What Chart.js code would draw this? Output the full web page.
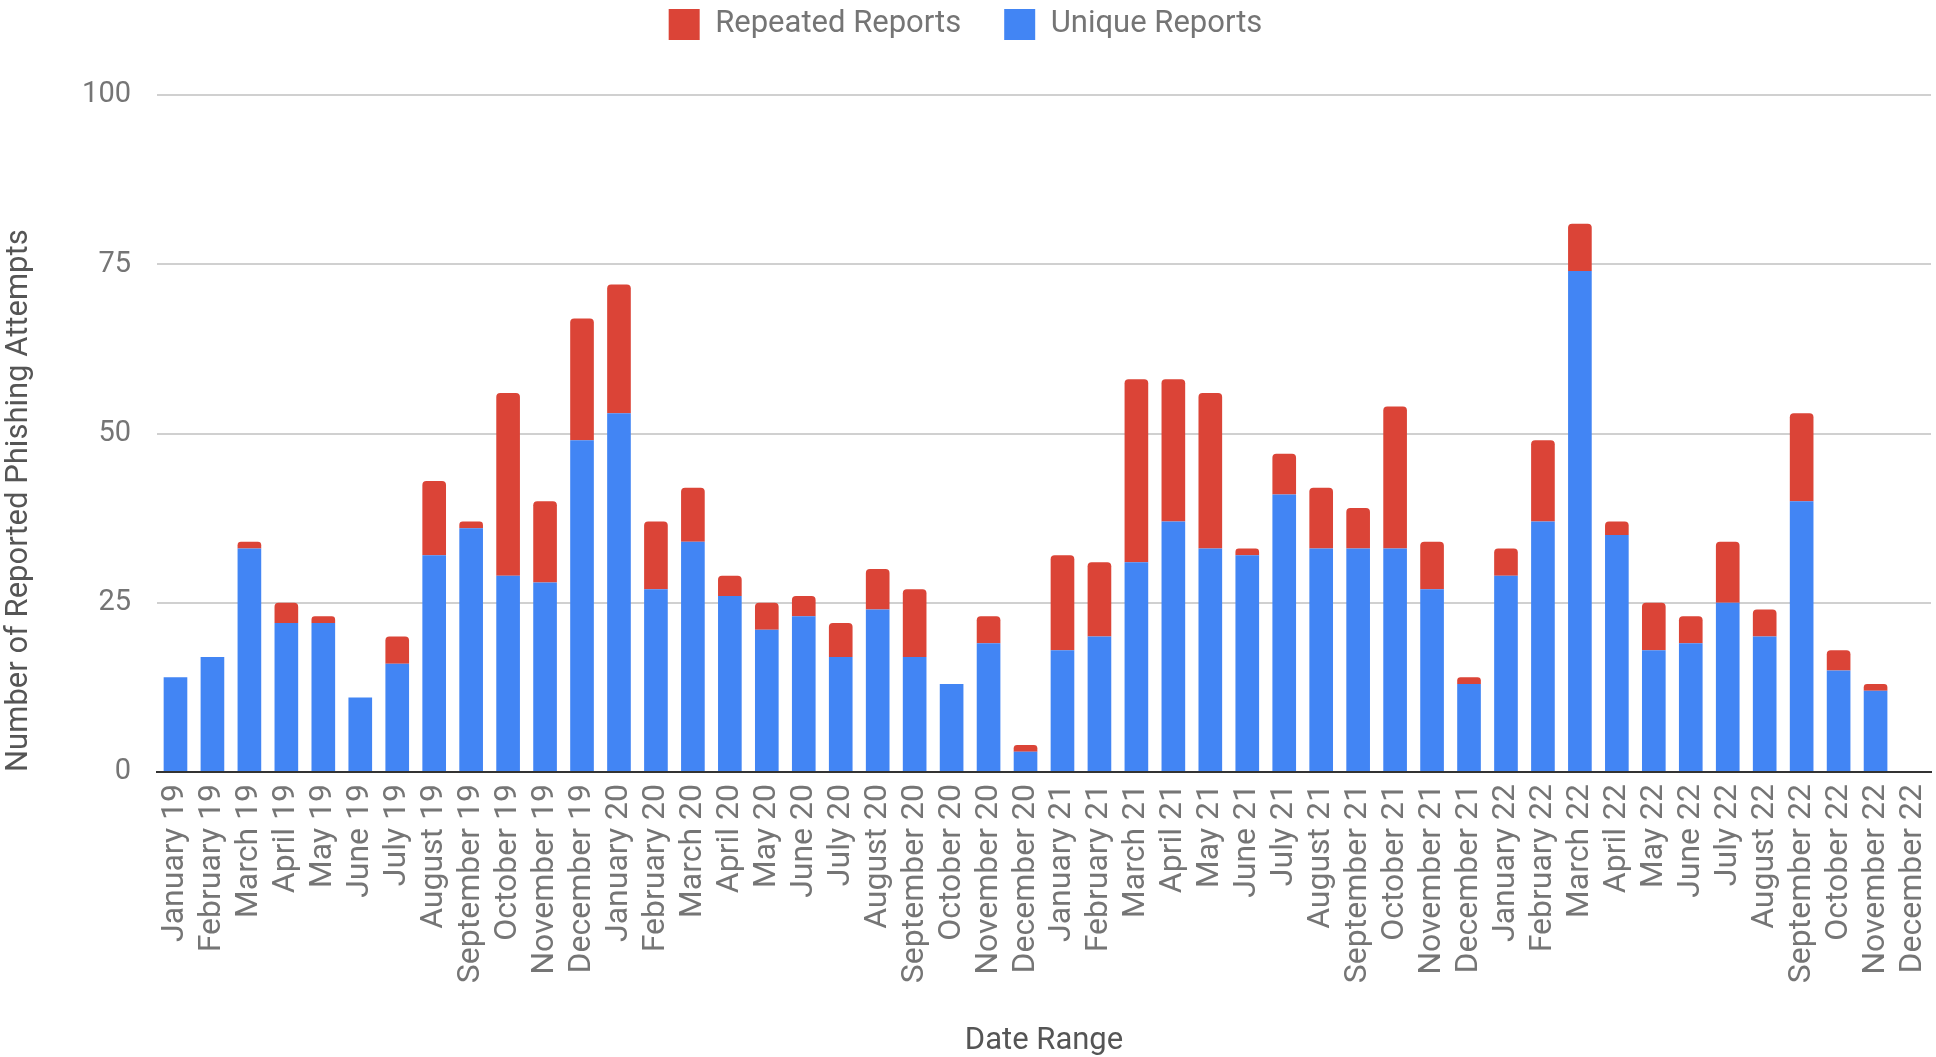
<!DOCTYPE html>
<html>
<head>
<meta charset="utf-8">
<script src="https://cdn.jsdelivr.net/npm/chart.js@4/dist/chart.umd.min.js"></script>
<style>
  html, body { margin: 0; padding: 0; background: #fff; }
  #wrap { width: 1936px; height: 1057px; position: relative; }
</style>
</head>
<body>
<div id="wrap"><canvas id="chart"></canvas></div>
<script>
const months = ["January", "February", "March", "April", "May", "June", "July",
  "August", "September", "October", "November", "December"];
const years = ["19", "20", "21", "22"];
const labels = [];
years.forEach((y) => months.forEach((m) => labels.push(m + " " + y)));

// unique reports, one per month Jan 19 .. Dec 22
const uniqueReports = [
  14, 17, 33, 22, 22, 11, 16, 32, 36, 29, 28, 49,
  53, 27, 34, 26, 21, 23, 17, 24, 17, 13, 19, 3,
  18, 20, 31, 37, 33, 32, 41, 33, 33, 33, 27, 13,
  29, 37, 74, 35, 18, 19, 25, 20, 40, 15, 12, 0,
];
// repeated reports stacked on top
const repeatedReports = [
  0, 0, 1, 3, 1, 0, 4, 11, 1, 27, 12, 18,
  19, 10, 8, 3, 4, 3, 5, 6, 10, 0, 4, 1,
  14, 11, 27, 21, 23, 1, 6, 9, 6, 21, 7, 1,
  4, 12, 7, 2, 7, 4, 9, 4, 13, 3, 1, 0,
];
const yTicks = [0, 25, 50, 75, 100];

const font = "Roboto";
const LEGEND_SHIFT = 34; // legend padding is 43 (item gap), pull it up so the boxes sit near the top

// make the legend box tall enough that the plot starts at y = 95
const legendSpace = {
  id: "legendSpace",
  beforeLayout(chart) {
    const lg = chart.legend;
    if (lg && !lg._spacePatched) {
      const origFit = lg.fit;
      lg.fit = function () {
        origFit.call(this);
        this.height = 95 + LEGEND_SHIFT;
      };
      lg._spacePatched = true;
    }
  },
};

const ctx = document.getElementById("chart").getContext("2d");

new Chart(ctx, {
  type: "bar",
  plugins: [legendSpace],
  data: {
    labels: labels,
    datasets: [
      {
        label: "Unique Reports",
        data: uniqueReports,
        backgroundColor: "#4285F4",
        barPercentage: 0.64,
        categoryPercentage: 1,
      },
      {
        label: "Repeated Reports",
        data: repeatedReports,
        backgroundColor: "#DB4437",
        borderRadius: 4,
        barPercentage: 0.64,
        categoryPercentage: 1,
      },
    ],
  },
  options: {
    responsive: true,
    maintainAspectRatio: false,
    animation: false,
    layout: { padding: { left: 0, right: 5, top: -LEGEND_SHIFT, bottom: 0 } },
    plugins: {
      tooltip: { enabled: false },
      legend: {
        position: "top",
        reverse: true,
        labels: {
          boxWidth: 31,
          boxHeight: 31,
          padding: 43,
          color: "#757575",
          font: { family: font, size: 31 },
        },
      },
    },
    scales: {
      x: {
        stacked: true,
        grid: { display: false, drawTicks: false },
        border: { color: "#333", width: 2 },
        ticks: {
          minRotation: 90,
          maxRotation: 90,
          autoSkip: false,
          padding: 12,
          color: "#757575",
          font: { family: font, size: 32 },
        },
        title: {
          display: true,
          text: "Date Range",
          color: "#555",
          padding: { top: 0, bottom: -3 },
          font: { family: font, size: 31 },
        },
        afterFit: (scale) => {
          scale.height = 285;
          scale.paddingLeft = 0;
          scale.paddingRight = 0;
        },
      },
      y: {
        stacked: true,
        min: 0,
        max: 100,
        afterBuildTicks: (scale) => {
          scale.ticks = yTicks.map((v) => ({ value: v }));
        },
        grid: { color: "#d0d0d0", lineWidth: 2, drawTicks: false },
        border: { display: false },
        ticks: {
          padding: 26,
          color: "#757575",
          font: { family: font, size: 29 },
        },
        title: {
          display: true,
          text: "Number of Reported Phishing Attempts",
          color: "#555",
          align: "start",
          padding: { top: 1, bottom: 0 },
          font: { family: font, size: 31 },
        },
        afterFit: (scale) => {
          scale.width = 157;
        },
      },
    },
  },
});
</script>
</body>
</html>
